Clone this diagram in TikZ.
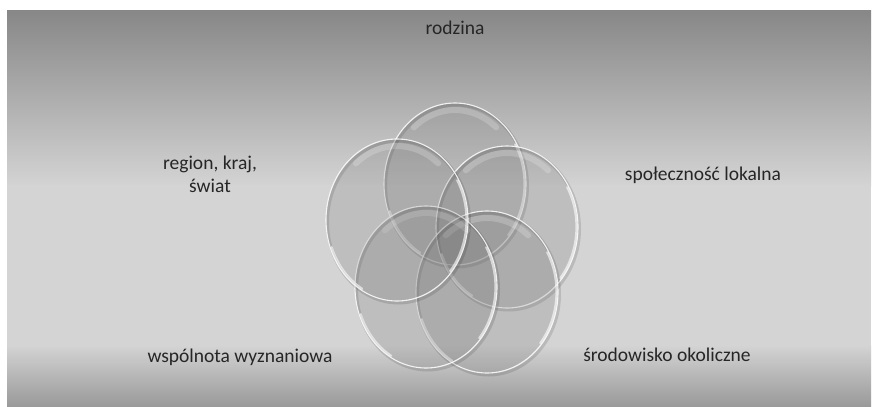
\documentclass[tikz,border=0pt]{standalone}
\usepackage{fontspec}
\setmainfont{Carlito}
\usepackage{tikz}
\usetikzlibrary{calc}

\definecolor{bgdark}{gray}{0.53}
\definecolor{bglight}{gray}{0.83}
\definecolor{bgbottom}{gray}{0.60}

\tikzset{
  ring/.style={fill=black!60, fill opacity=0.2, draw=white, draw opacity=0.85, line width=1.1pt},
  ringshadow/.style={draw=black, draw opacity=0.12, line width=3pt},
  rim/.style={draw=white, draw opacity=0.6, line width=2.2pt, line cap=round},
  gloss/.style={draw=white, draw opacity=0.2, line width=6pt, line cap=round},
  ringtext/.style={text=black!85, font=\fontsize{19.5}{23}\selectfont, align=center}
}

\begin{document}
\begin{tikzpicture}[x=1pt, y=-1pt]
		\useasboundingbox (0,0) rectangle (873,407);
		
		% Background panel
		\fill[white] (0,0) rectangle (873,407);
		\shade[top color=bgdark, bottom color=bglight] (7,10) rectangle (871,186);
		\fill[bglight] (7,185) rectangle (871,346);
		\shade[top color=bglight, bottom color=bgbottom] (7,345) rectangle (871,407);
		
		% Centres of the five rings
		\coordinate (rodzina) at (455,184);
		\coordinate (spolecznosc) at (507,227);
		\coordinate (srodowisko) at (487,292);
		\coordinate (wspolnota) at (426,287);
		\coordinate (region) at (397,220);
		
		% Draw the rings
		\foreach \c in {rodzina,spolecznosc,srodowisko,wspolnota,region}{
			\draw[ringshadow] ($(\c)+(1.5,2)$) ellipse [x radius=71, y radius=81];
			\draw[ring] (\c) ellipse [x radius=71, y radius=81];
			% bright rim, right and lower left
			\draw[rim] ($(\c)+(-30:69.5 and 79.5)$) arc[start angle=-30, end angle=40, x radius=69.5, y radius=79.5];
			\draw[rim] ($(\c)+(120:69.5 and 79.5)$) arc[start angle=120, end angle=160, x radius=69.5, y radius=79.5];
			% glossy top
			\draw[gloss] ($(\c)+(-130:64 and 74)$) arc[start angle=-130, end angle=-50, x radius=64, y radius=74];
		}
		
		% Labels
		\node[ringtext] (trodzina) at (455,28) {rodzina};
		\node[ringtext] (tregion) at (210,174) {region, kraj,\\świat};
		\node[ringtext] (tspol) at (703,175) {społeczność lokalna};
		\node[ringtext] (twsp) at (240,357) {wspólnota wyznaniowa};
		\node[ringtext] (tsrod) at (667,355) {środowisko okoliczne};
	\end{tikzpicture}
\end{document}
